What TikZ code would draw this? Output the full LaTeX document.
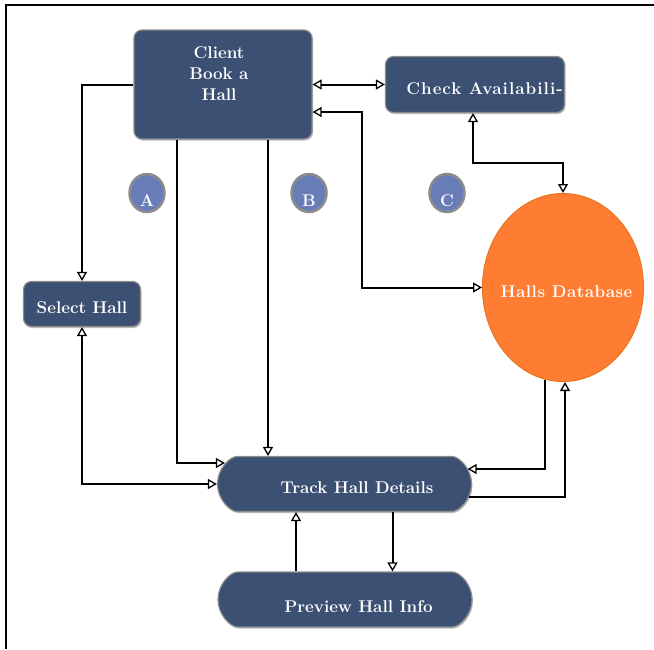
\documentclass[tikz,border=0pt]{standalone}
\usepackage{fontspec}
\newfontfamily\spacedwide{Latin Modern Roman}[LetterSpace=6]
\newfontfamily\spacedlow{Latin Modern Roman}[LetterSpace=3]
\usetikzlibrary{shapes.misc,shapes.geometric,arrows.meta,shadows}

\definecolor{boxblue}{RGB}{59,80,115}
\definecolor{boxedge}{RGB}{140,140,140}
\definecolor{tagblue}{RGB}{104,124,184}
\definecolor{dborange}{RGB}{255,125,50}
\definecolor{dbedge}{RGB}{232,115,30}

\tikzset{
	>={Triangle[open,length=9pt,width=10pt,line width=1.3pt]},
	proc/.style={rectangle, rounded corners=8pt, fill=boxblue, draw=boxedge, line width=1.2pt,
		inner sep=0pt, text=white, font=\fontsize{17}{21}\selectfont\bfseries,
		drop shadow={shadow xshift=1pt, shadow yshift=-1.5pt, opacity=0.5}},
	pill/.style={proc, rounded rectangle},
	oneline/.style={text height=19pt, text depth=0pt},
	tag/.style={ellipse, fill=tagblue, draw=boxedge, line width=2.5pt, inner sep=0pt,
		minimum width=35pt, minimum height=38pt, text height=26pt, text depth=0pt,
		text=white, font=\fontsize{17}{18}\selectfont\bfseries},
	link/.style={->, line width=2pt},
	twoway/.style={<->, line width=2pt},
}

\begin{document}
\begin{tikzpicture}[x=1pt,y=-1pt]
	\useasboundingbox (0,0) rectangle (654,649);
	% Frame
	\draw [line width=1.5pt] (6,649) -- (6,5) -- (654,5);
	% Processes
	\node [proc, minimum width=178pt, minimum height=109pt] (client) at (223,84.5)
		{\begin{tabular}{@{}c@{}}Client\\Book a\\Hall\\[19pt]\end{tabular}\hspace*{8pt}};
	\node [proc, oneline, minimum width=179pt, minimum height=56pt] (check) at (475,84.5)
		{\hspace*{19pt}{\spacedwide\bfseries Check Availabili-}};
	\node [proc, oneline, minimum width=117pt, minimum height=45pt] (select) at (82,304) {Select Hall};
	\node [pill, oneline, minimum width=254pt, minimum height=55pt] (track) at (344.5,484)
		{\hspace*{25pt}Track Hall Details};
	\node [pill, oneline, text height=26pt, minimum width=254pt, minimum height=55pt] (preview) at (345,599.5)
		{\hspace*{27pt}Preview Hall Info};
	% Database
	\node [ellipse, fill=dborange, draw=dbedge, line width=1pt, inner sep=0pt, inner xsep=-14pt, oneline,
		minimum width=161pt, minimum height=188pt, text=white,
		font=\fontsize{17}{21}\selectfont\bfseries] (db) at (563,287.5)
		{\hspace*{7pt}{\spacedlow\bfseries Halls Database}};
	% Tags
	\node [tag] (tagA) at (147,193) {A};
	\node [tag] (tagB) at (309,193) {B};
	\node [tag] (tagC) at (447,193) {C};
	% Flows
	\draw [link] (client.west) -| (select.north);
	\draw [twoway] (client.east) -- (check.west);
	\draw [twoway] ([xshift=-2pt]check.south) -- ++(0,50) -| (db.north);
	\draw [twoway] ([yshift=-27.5pt]client.east) -- ++(49,0) |- (db.west);
	\draw [link] ([xshift=-46pt]client.south) |- ([shift={(8,-21)}]track.west);
	\draw [link] ([xshift=45pt]client.south) -- ([xshift=45pt]client.south |- track.north);
	\draw [twoway] (select.south) |- (track.west);
	\draw [link] (db.-101) |- ([shift={(-4.5,-15)}]track.east);
	\draw [link] ([shift={(-3.3,13)}]track.east) -| ([xshift=2pt]db.south);
	\draw [link] ([xshift=-49pt]preview.north) -- ([xshift=-49pt]preview.north |- track.south);
	\draw [link] ([xshift=48pt]track.south) -- ([xshift=48pt]track.south |- preview.north);
\end{tikzpicture}
\end{document}
